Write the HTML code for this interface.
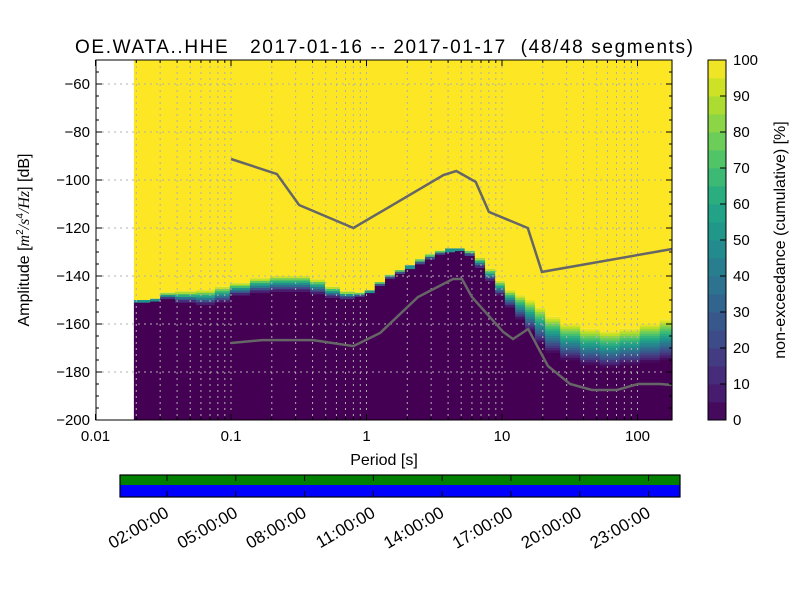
<!DOCTYPE html>
<html><head><meta charset="utf-8"><style>
body{margin:0;background:#fff;}
svg{display:block;font-family:"Liberation Sans","DejaVu Sans",sans-serif;}
</style></head><body>
<svg id="c" width="800" height="600" viewBox="0 0 800 600">
<rect width="800" height="600" fill="#fff"/>
<text x="75" y="53" font-size="19" textLength="618" lengthAdjust="spacing" xml:space="preserve" style="white-space:pre">OE.WATA..HHE   2017-01-16 -- 2017-01-17  (48/48 segments)</text>
<g id="heat"></g>
<g id="grid"></g>
<g id="lines"></g>
<rect x="96" y="60" width="576" height="360" fill="none" stroke="#000" stroke-width="1"/>
<g id="axes"></g>
<text transform="translate(29,240) rotate(-90)" font-size="16" text-anchor="middle">Amplitude [<tspan font-style="italic" font-family="Liberation Serif, serif">m</tspan><tspan font-size="10" dy="-6">2</tspan><tspan dy="6" font-style="italic" font-family="Liberation Serif, serif">/s</tspan><tspan font-size="10" dy="-6">4</tspan><tspan dy="6" font-style="italic" font-family="Liberation Serif, serif">/Hz</tspan>] [dB]</text>
<text x="384" y="465" font-size="16" text-anchor="middle">Period [s]</text>
<g id="cbar"></g>
<text transform="translate(785,240) rotate(-90)" font-size="16" text-anchor="middle">non-exceedance (cumulative) [%]</text>
<g id="timeline"></g>
</svg>
<script>
const periods=[0.0192,0.0253,0.030,0.0386,0.055,0.076,0.098,0.138,0.194,0.272,0.383,0.494,0.637,0.82,0.97,1.15,1.37,1.62,1.92,2.28,2.7,3.2,3.8,4.5,5.3,6.3,7.5,8.9,10.5,12.5,14.8,17.5,20.8,26.9,37.7,52.8,74,104,146,180];
const lowEdge=[-151,-150.5,-149.5,-151,-152,-151,-148,-147,-146.5,-146.5,-147.5,-149,-149.5,-148.5,-147,-144,-141,-139,-137,-135,-133,-131,-130,-129.5,-131.5,-136.5,-142,-148,-153,-158,-163,-168,-172,-175,-177,-178,-177,-176,-175];
const highEdge=[-150,-149.5,-147,-146.5,-146,-144.5,-143,-141,-140,-140,-141.5,-144.5,-146.5,-147,-146,-142.5,-139.5,-137.5,-135.5,-133,-131,-129.5,-128.5,-128.5,-129.5,-132.5,-137,-142,-146,-148,-150,-153,-157,-160,-162,-163,-162,-160,-158];
const nhnmP=[0.1,0.218,0.318,0.8,3.7,4.6,6.4,8.0,15.5,19.7,180];
const nhnmDb=[-91.25,-97.5,-110.4,-120,-97.9,-96.25,-100.8,-113.3,-120,-138.3,-128.75];
const nlnmP=[0.1,0.169,0.403,0.8,1.26,2.4,4.35,5.07,6.0,10.2,12.05,15.6,21.8,31.8,46.1,70.6,101,146.6,180];
const nlnmDb=[-167.9,-166.7,-166.7,-169.2,-163.75,-148.75,-141.25,-141.25,-148.75,-163.3,-166.25,-162.1,-177.5,-185,-187.5,-187.5,-185,-185,-185.4];
const xTicks=[0.01,0.1,1,10,100];
const xTickLabels=["0.01","0.1","1","10","100"];
const yTicks=[-200,-180,-160,-140,-120,-100,-80,-60];
const cbTicks=[0,10,20,30,40,50,60,70,80,90,100];
const timeLabels=["02:00:00","05:00:00","08:00:00","11:00:00","14:00:00","17:00:00","20:00:00","23:00:00"];
const timeHours=[2,5,8,11,14,17,20,23];

const NS="http://www.w3.org/2000/svg";
const X0=96,X1=672,Y0=60,Y1=420;
const xs=p=>231+(Math.log10(p)+1)*135.5;
const ys=d=>Y0+(-50-d)*2.4;
function mk(tag,attrs,parent){const e=document.createElementNS(NS,tag);for(const k in attrs)e.setAttribute(k,attrs[k]);parent.appendChild(e);return e;}
const vir=[[68,1,84],[72,36,117],[65,68,135],[53,95,141],[42,120,142],[33,145,140],[34,168,132],[68,191,112],[122,209,81],[189,223,38],[253,231,37]];
function viridis(t){t=Math.max(0,Math.min(1,t));const f=t*10,i=Math.min(9,Math.floor(f)),r=f-i;const a=vir[i],b=vir[i+1];return `rgb(${a.map((v,k)=>Math.round(v+(b[k]-v)*r)).join(',')})`;}

const heat=document.getElementById('heat');
for(let i=0;i<lowEdge.length;i++){
  const xa=xs(periods[i]),xb=xs(Math.min(periods[i+1],200));
  const yl=ys(lowEdge[i]),yh=ys(highEdge[i]);
  const col=mk('g',{},heat);
  
  
  mk('rect',{x:xa,y:Y0,width:xb-xa+0.5,height:yh-Y0,fill:viridis(1)},col);
  mk('rect',{x:xa,y:yl,width:xb-xa+0.5,height:Y1-yl,fill:viridis(0)},col);
  const n=Math.max(1,Math.round((yl-yh)/2.4));
  for(let k=0;k<n;k++){
    const ya=yh+(yl-yh)*k/n,yb=yh+(yl-yh)*(k+1)/n;
    mk('rect',{x:xa,y:ya,width:xb-xa+0.5,height:yb-ya+0.3,fill:viridis(1-(k+0.5)/n)},col);
  }
}
const grid=document.getElementById('grid');
for(let d=-2;d<=2;d++){for(let m=1;m<=9;m++){const p=m*Math.pow(10,d);const x=xs(p);if(x<=X0+0.5||x>=X1)continue;
  const l=mk('line',{x1:x,x2:x,y1:Y0,y2:Y1,stroke:'#b0b0b0','stroke-width':1,'stroke-dasharray':'2,4'},grid);
  }}
yTicks.forEach(v=>{const y=ys(v);if(y<=Y0||y>=Y1)return;
  const l=mk('line',{x1:X0,x2:X1,y1:y,y2:y,stroke:'#b0b0b0','stroke-width':1,'stroke-dasharray':'2,4'},grid);
  });
const lines=document.getElementById('lines');
function poly(P,D,name){const pts=P.map((p,i)=>xs(p).toFixed(1)+','+ys(D[i]).toFixed(1)).join(' ');
  const l=mk('polyline',{points:pts,fill:'none',stroke:'#666','stroke-width':2.5},lines);
  }
poly(nhnmP,nhnmDb,'nhnm-line');poly(nlnmP,nlnmDb,'nlnm-line');
const axes=document.getElementById('axes');
xTicks.forEach((v,i)=>{const x=xs(v);
  mk('line',{x1:x,x2:x,y1:Y1,y2:Y1-6,stroke:'#000'},axes);mk('line',{x1:x,x2:x,y1:Y0,y2:Y0+6,stroke:'#000'},axes);
  const t=mk('text',{x:x,y:441,'font-size':15,'text-anchor':'middle'},axes);t.textContent=xTickLabels[i];
  });
for(let d=-2;d<=2;d++){for(let m=2;m<=9;m++){const x=xs(m*Math.pow(10,d));if(x>=X1)continue;
  mk('line',{x1:x,x2:x,y1:Y1,y2:Y1-3,stroke:'#000'},axes);mk('line',{x1:x,x2:x,y1:Y0,y2:Y0+3,stroke:'#000'},axes);}}
yTicks.forEach(v=>{const y=ys(v);
  mk('line',{x1:X0,x2:X0+6,y1:y,y2:y,stroke:'#000'},axes);mk('line',{x1:X1,x2:X1-6,y1:y,y2:y,stroke:'#000'},axes);
  const t=mk('text',{x:90,y:y+5,'font-size':15,'text-anchor':'end'},axes);t.textContent=String(v).replace('-','\u2212');
  });
for(let v=-195;v<-50;v+=5){if(v%20===0)continue;const y=ys(v);
  mk('line',{x1:X0,x2:X0+3,y1:y,y2:y,stroke:'#000'},axes);mk('line',{x1:X1,x2:X1-3,y1:y,y2:y,stroke:'#000'},axes);}
const cb=document.getElementById('cbar');
for(let k=0;k<20;k++){const ya=420-(k+1)*18;mk('rect',{x:708,y:ya,width:18,height:18.4,fill:viridis((k+0.5)/20)},cb);}
mk('rect',{x:708,y:60,width:18,height:360,fill:'none',stroke:'#000'},cb);
cbTicks.forEach(v=>{const y=420-v*3.6;mk('line',{x1:720,x2:726,y1:y,y2:y,stroke:'#000'},cb);
  const t=mk('text',{x:733,y:y+5,'font-size':15},cb);t.textContent=v;
  });
const tl=document.getElementById('timeline');
const hx=h=>167+(h-2)*22.93;
mk('rect',{x:120,y:475,width:560,height:10,fill:'#008000'},tl);
mk('rect',{x:120,y:485,width:560,height:12,fill:'#0000ff'},tl);
mk('rect',{x:120,y:475,width:560,height:22,fill:'none',stroke:'#000','stroke-width':1.2},tl);
timeHours.forEach((h,i)=>{const x=hx(h);
  mk('line',{x1:x,x2:x,y1:475,y2:481,stroke:'#000'},tl);mk('line',{x1:x,x2:x,y1:497,y2:491,stroke:'#000'},tl);
  const tx=x+3,ty=516;
  const t=mk('text',{x:tx,y:ty,'font-size':17,'text-anchor':'end',transform:`rotate(-30 ${tx} ${ty})`},tl);t.textContent=timeLabels[i];
  });
</script>
</body></html>
